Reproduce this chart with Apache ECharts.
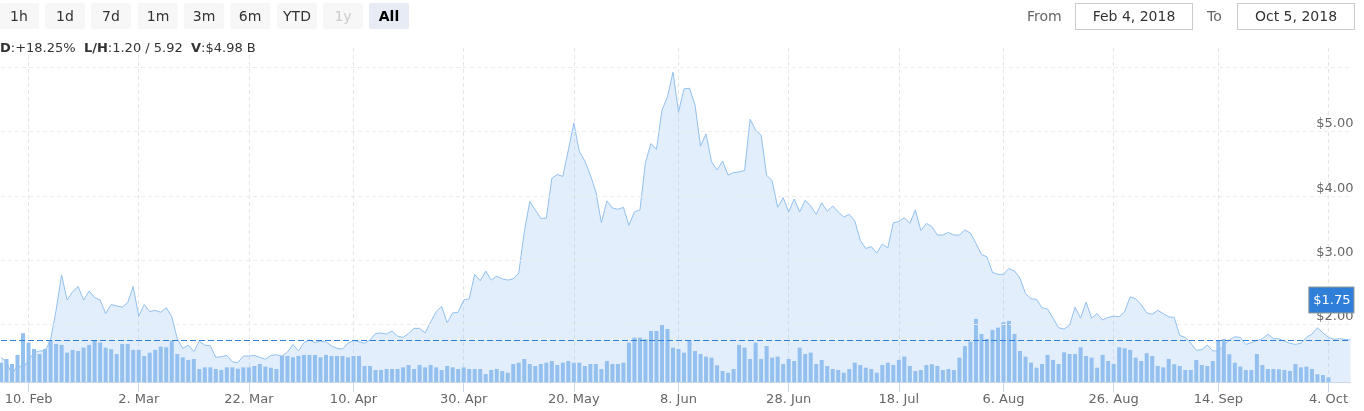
<!DOCTYPE html>
<html>
<head>
<meta charset="utf-8">
<script src="https://cdn.jsdelivr.net/npm/echarts@6/dist/echarts.min.js"></script>
<style>
html, body { margin: 0; padding: 0; background: #fff; }
#wrap { position: relative; width: 1364px; height: 411px; overflow: hidden; font-family: "DejaVu Sans", sans-serif; }
#chart { position: absolute; left: 0; top: 0; width: 1364px; height: 411px; }
.btn { position: absolute; top: 3px; width: 40px; height: 26px; line-height: 26px; text-align: center;
       background: #f7f7f7; color: #333; font-size: 14px; border-radius: 2px; z-index: 2; }
.btn.off { color: #ccc; }
.btn.on { background: #e6ebf5; color: #000; font-weight: bold; }
.lbl { position: absolute; top: 3px; height: 26px; line-height: 26px; color: #666; font-size: 14px; z-index: 2; }
.date { position: absolute; top: 3px; width: 116px; height: 25px; line-height: 25px; border: 1px solid #ccc;
        text-align: center; color: #333; font-size: 14px; z-index: 2; background: #fff; }
#info { position: absolute; left: 0; top: 40px; font-size: 13px; color: #333; z-index: 2; white-space: pre; }
</style>
</head>
<body>
<div id="wrap">
  <div id="chart"></div>
  <div id="info"><b>D</b>:+18.25%  <b>L/H</b>:1.20 / 5.92  <b>V</b>:$4.98 B</div>
  <div class="btn" style="left:-1px">1h</div>
  <div class="btn" style="left:45px">1d</div>
  <div class="btn" style="left:91px">7d</div>
  <div class="btn" style="left:138px">1m</div>
  <div class="btn" style="left:184px">3m</div>
  <div class="btn" style="left:230px">6m</div>
  <div class="btn" style="left:277px">YTD</div>
  <div class="btn off" style="left:323px">1y</div>
  <div class="btn on" style="left:369px">All</div>
  <div class="lbl" style="left:1027px">From</div>
  <div class="date" style="left:1075px">Feb 4, 2018</div>
  <div class="lbl" style="left:1207px">To</div>
  <div class="date" style="left:1237px">Oct 5, 2018</div>
</div>
<script>
// first day on the axis and number of daily categories
const startDay = Date.UTC(2018, 1, 5);
const dayCount = 246;

// dates that carry a tick, label and vertical grid line
const tickDays = ['2018-02-10', '2018-03-02', '2018-03-22', '2018-04-10', '2018-04-30', '2018-05-20',
  '2018-06-08', '2018-06-28', '2018-07-18', '2018-08-06', '2018-08-26', '2018-09-14', '2018-10-04'];
const monthNames = ['Jan', 'Feb', 'Mar', 'Apr', 'May', 'Jun', 'Jul', 'Aug', 'Sep', 'Oct', 'Nov', 'Dec'];

// price axis labels and grid lines ($)
const priceTicks = [2, 3, 4, 5];
const priceGrid = [2, 3, 4, 5, 6];
const lastPrice = 1.75;

// daily price ($)
const price = [
  1.49, 1.42, 1.22, 1.37, 1.32, 1.45, 1.56, 1.59, 1.59, 1.76,
  2.22, 2.77, 2.38, 2.51, 2.59, 2.38, 2.52, 2.42, 2.38, 2.17,
  2.31, 2.29, 2.27, 2.34, 2.59, 2.13, 2.31, 2.20, 2.22, 2.19,
  2.26, 2.12, 1.78, 1.63, 1.68, 1.58, 1.74, 1.68, 1.67, 1.49,
  1.50, 1.52, 1.42, 1.41, 1.51, 1.51, 1.52, 1.49, 1.46, 1.52,
  1.53, 1.51, 1.57, 1.69, 1.59, 1.72, 1.76, 1.72, 1.74, 1.73,
  1.67, 1.63, 1.62, 1.71, 1.75, 1.73, 1.71, 1.76, 1.86, 1.87,
  1.85, 1.90, 1.82, 1.80, 1.86, 1.94, 1.94, 1.87, 2.04, 2.20,
  2.28, 2.03, 2.18, 2.19, 2.38, 2.40, 2.78, 2.68, 2.83, 2.69,
  2.75, 2.71, 2.69, 2.71, 2.80, 3.44, 3.91, 3.78, 3.65, 3.65,
  4.27, 4.33, 4.30, 4.71, 5.13, 4.69, 4.54, 4.32, 4.06, 3.58,
  3.92, 3.81, 3.79, 3.82, 3.54, 3.75, 3.78, 4.52, 4.81, 4.72,
  5.33, 5.54, 5.92, 5.30, 5.66, 5.67, 5.41, 4.77, 4.96, 4.53,
  4.40, 4.54, 4.32, 4.36, 4.37, 4.39, 5.19, 5.02, 4.94, 4.32,
  4.23, 3.82, 3.97, 3.75, 3.95, 3.75, 3.93, 3.84, 3.71, 3.89,
  3.76, 3.84, 3.75, 3.67, 3.71, 3.61, 3.31, 3.18, 3.21, 3.11,
  3.25, 3.19, 3.58, 3.60, 3.66, 3.57, 3.78, 3.46, 3.57, 3.52,
  3.39, 3.39, 3.43, 3.39, 3.39, 3.47, 3.42, 3.26, 3.09, 3.05,
  2.81, 2.78, 2.78, 2.87, 2.83, 2.72, 2.48, 2.40, 2.39, 2.26,
  2.24, 2.10, 1.95, 1.93, 1.99, 2.27, 2.10, 2.35, 2.10, 2.17,
  2.07, 2.11, 2.13, 2.12, 2.20, 2.43, 2.40, 2.31, 2.18, 2.16,
  2.22, 2.17, 2.12, 2.11, 1.83, 1.80, 1.71, 1.60, 1.61, 1.68,
  1.59, 1.59, 1.67, 1.76, 1.81, 1.80, 1.69, 1.72, 1.75, 1.78,
  1.85, 1.78, 1.78, 1.74, 1.71, 1.69, 1.71, 1.80, 1.85, 1.95,
  1.87, 1.80, 1.77, 1.78, 1.77, 1.76
];

// daily volume ($M)
const volume = [
  16.2, 19.3, 15.1, 22.7, 40.9, 33.0, 27.7, 23.5, 27.7, 34.7,
  31.9, 31.1, 24.6, 26.9, 26.0, 28.8, 31.1, 34.4, 33.0, 28.8,
  27.5, 23.5, 31.9, 31.9, 26.9, 26.9, 21.8, 24.6, 26.9, 29.7,
  29.1, 34.4, 23.5, 20.7, 18.5, 19.3, 10.9, 12.3, 12.3, 10.9,
  10.1, 12.3, 12.3, 11.2, 12.3, 12.3, 13.4, 15.1, 12.9, 12.0,
  10.9, 21.8, 21.8, 20.7, 21.8, 22.7, 22.7, 22.7, 20.7, 22.7,
  21.8, 21.8, 21.8, 20.7, 21.8, 21.8, 13.4, 13.4, 10.1, 10.1,
  10.9, 10.9, 10.9, 12.3, 14.3, 10.9, 14.3, 12.3, 14.3, 12.3,
  10.1, 13.4, 12.3, 10.9, 12.3, 10.9, 10.9, 10.9, 6.7, 10.1,
  10.9, 9.2, 7.8, 15.1, 16.2, 19.3, 15.1, 13.4, 15.1, 16.2,
  17.6, 14.3, 16.2, 17.6, 16.2, 16.2, 13.4, 15.1, 15.1, 10.9,
  17.6, 15.1, 15.1, 16.2, 33.0, 37.2, 37.2, 35.9, 42.8, 42.8,
  47.9, 44.5, 28.8, 27.7, 24.6, 34.7, 26.0, 23.5, 21.3, 20.4,
  14.0, 9.2, 7.8, 10.9, 31.1, 28.8, 19.3, 33.0, 19.3, 30.2,
  20.4, 21.3, 15.1, 19.3, 17.6, 28.8, 23.5, 24.6, 15.1, 18.5,
  13.4, 10.9, 10.1, 7.8, 10.9, 16.2, 14.3, 12.0, 10.9, 7.8,
  14.3, 16.2, 14.3, 18.5, 21.3, 13.4, 9.2, 10.1, 14.3, 14.9,
  13.4, 10.1, 10.9, 10.1, 20.4, 30.2, 33.9, 52.9, 40.3, 36.1,
  43.7, 45.6, 50.1, 51.2, 40.3, 26.0, 21.3, 16.2, 12.0, 15.1,
  22.7, 18.5, 15.1, 24.9, 23.5, 23.5, 29.1, 21.8, 20.4, 12.0,
  22.7, 17.6, 15.1, 29.1, 28.3, 26.9, 20.4, 17.6, 24.1, 21.8,
  13.4, 12.3, 19.3, 14.9, 13.4, 10.1, 10.1, 18.5, 14.3, 13.4,
  17.6, 34.7, 36.1, 23.3, 16.2, 12.9, 10.1, 10.1, 23.5, 14.3,
  10.9, 10.9, 10.7, 10.1, 9.2, 15.1, 12.3, 12.9, 10.9, 6.5,
  5.9, 3.9
];

const days = [];
for (let i = 0; i < dayCount; i++) {
  days.push(new Date(startDay + i * 86400000).toISOString().slice(0, 10));
}
const isTick = (idx, val) => tickDays.includes(val);
const fmtDay = (val) => {
  const [y, m, d] = val.split('-');
  return `${Number(d)}. ${monthNames[Number(m) - 1]}`;
};

const myChart = echarts.init(document.getElementById('chart'));
myChart.setOption({
  animation: false,
  textStyle: { fontFamily: 'DejaVu Sans' },
  grid: { left: 1, right: 13.5, top: 48, bottom: 29 },
  xAxis: {
    type: 'category',
    data: days,
    boundaryGap: false,
    axisLine: { lineStyle: { color: '#ccd6eb' } },
    axisTick: { length: 10, interval: isTick, lineStyle: { color: '#ccd6eb' } },
    axisLabel: { interval: isTick, formatter: fmtDay, color: '#666', fontSize: 13, margin: 11 },
    splitLine: { show: true, interval: isTick, lineStyle: { color: '#e6e6e6', type: [4, 3] } }
  },
  yAxis: [
    {
      type: 'value',
      position: 'right',
      min: 1.107,
      max: 6.295,
      offset: 3,
      axisLine: { show: false },
      axisTick: { show: false },
      splitLine: { show: false },
      axisLabel: {
        inside: true,
        customValues: priceTicks,
        margin: 0,
        verticalAlign: 'bottom',
        padding: [0, 0, 1, 0],
        color: '#666',
        fontSize: 13,
        formatter: (v) => '$' + v.toFixed(2)
      }
    },
    { type: 'value', min: 0, max: 280, show: false }
  ],
  series: [
    {
      name: 'grid',
      type: 'line',
      data: [],
      silent: true,
      z: 1,
      markLine: {
        silent: true,
        symbol: 'none',
        label: { show: false },
        lineStyle: { color: '#ececec', type: [4, 3], width: 1 },
        data: priceGrid.map((v) => ({ yAxis: v }))
      }
    },
    {
      name: 'Price',
      type: 'line',
      data: price,
      yAxisIndex: 0,
      symbol: 'none',
      z: 2,
      lineStyle: { color: '#92c0ee', width: 1 },
      areaStyle: { color: 'rgba(124,181,236,0.32)', origin: 'start' }
    },
    {
      name: 'Volume',
      type: 'bar',
      data: volume,
      yAxisIndex: 1,
      barWidth: 4,
      z: 3,
      itemStyle: { color: '#93c0ef' }
    },
    {
      name: 'Last',
      type: 'line',
      data: [],
      z: 4,
      markLine: {
        silent: true,
        symbol: 'none',
        lineStyle: { color: '#2f7ed8', type: [6, 3], width: 1 },
        label: {
          position: 'insideEndTop',
          distance: [-3, 28],
          formatter: '$' + lastPrice.toFixed(2),
          backgroundColor: '#2f7ed8',
          borderColor: '#999',
          borderWidth: 1,
          color: '#fff',
          fontSize: 13,
          padding: [7, 3, 5, 4]
        },
        data: [{ yAxis: lastPrice }]
      }
    }
  ]
});
</script>
</body>
</html>
